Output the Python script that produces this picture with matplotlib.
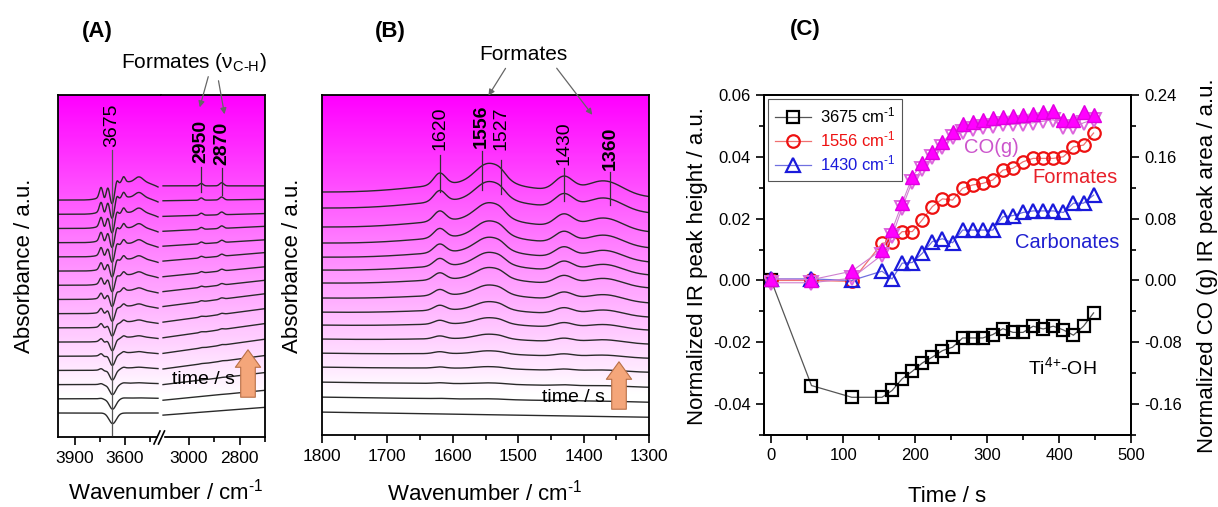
import numpy as np
import matplotlib
matplotlib.use("Agg")
import matplotlib.pyplot as plt
from matplotlib.colors import LinearSegmentedColormap
from matplotlib.lines import Line2D
from matplotlib.patches import Rectangle
from matplotlib.ticker import MultipleLocator, FixedLocator, FormatStrFormatter

plt.rcParams['font.family'] = ['Liberation Sans', 'DejaVu Sans']
plt.rcParams['mathtext.fontset'] = 'custom'
plt.rcParams['mathtext.rm'] = 'Liberation Sans'
plt.rcParams['mathtext.it'] = 'Liberation Sans:italic'
plt.rcParams['axes.unicode_minus'] = False

######################
# (C) kinetics of the IR bands, time in s
time_s = [0, 56, 112, 154, 168, 182, 196, 210, 224, 238, 252, 266, 280,
          294, 308, 322, 336, 350, 364, 378, 392, 406, 420, 434, 448]
oh_3675 = [0.0, -0.034, -0.0378, -0.0378, -0.0356, -0.0318, -0.0294, -0.0267,
           -0.0248, -0.0227, -0.0216, -0.0186, -0.0186, -0.0186, -0.0175,
           -0.0156, -0.0168, -0.0168, -0.0148, -0.0157, -0.0148, -0.016,
           -0.0177, -0.0148, -0.0105]
formate_1556 = [0.0, 0.0, -0.0003, 0.012, 0.0126, 0.0158, 0.0158, 0.0196,
                0.0239, 0.0264, 0.026, 0.0298, 0.0309, 0.0314, 0.0325, 0.0357,
                0.0363, 0.0384, 0.0395, 0.0395, 0.0395, 0.04, 0.0432, 0.0438,
                0.0477]
carbonate_1430 = [0.0005, 0.0005, 0.0, 0.003, 0.0005, 0.0056, 0.0058, 0.0088,
                  0.0126, 0.0135, 0.0122, 0.0163, 0.0163, 0.0163, 0.0163,
                  0.0206, 0.021, 0.022, 0.0225, 0.0225, 0.0225, 0.022, 0.025,
                  0.025, 0.0276]
# CO(g) peak areas (right axis)
co_area_a = [0.002, 0.001, 0.012, 0.040, 0.065, 0.100, 0.134, 0.152, 0.166,
             0.179, 0.192, 0.202, 0.205, 0.208, 0.210, 0.212, 0.213, 0.214,
             0.216, 0.218, 0.219, 0.208, 0.208, 0.218, 0.214]
co_area_b = [-0.003, -0.003, 0.003, 0.033, 0.057, 0.094, 0.128, 0.144, 0.160,
             0.173, 0.186, 0.192, 0.196, 0.198, 0.200, 0.202, 0.202, 0.203,
             0.204, 0.206, 0.208, 0.198, 0.198, 0.204, 0.208]

######################
# (A) OH + C-H region, bands of the last spectrum (centre, width, height)
a_oh_centre = [3742, 3700, 3648, 3606, 3640, 3480, 3515, 3675, 3722]
a_oh_width = [10, 9, 9, 9, 60, 110, 25, 10, 8]
a_oh_height = [0.65, 0.55, 0.55, 0.35, 0.8, 1.2, 0.4, -0.45, -0.3]
a_neg_band = (3672, 22, -0.75)          # consumed Ti4+-OH, present from the start
a_ch_centre = [2950, 2870]
a_ch_width = [7, 8]
a_ch_height = [0.17, 0.22]
a_scale = [0.0, 0.04, 0.08, 0.14, 0.2, 0.27, 0.34, 0.42, 0.5, 0.58, 0.66,
           0.74, 0.82, 0.88, 0.94, 1.0]
a_ch_level = [-0.15, -0.1, 0.0, 0.1, 0.2, 0.3, 0.4, 0.5, 0.55, 0.6, 0.7,
              0.75, 0.8, 0.85, 0.95, 1.0]
a_ch_rise = [0.55, 0.7, 0.85, 0.95, 1.0, 1.0, 0.95, 0.9, 0.8, 0.7, 0.6,
             0.45, 0.35, 0.2, 0.1, 0.0]

# (B) carbonate / formate region
b_centre = [1560, 1620, 1545, 1527, 1430, 1368]
b_width = [90, 9, 20, 8, 14, 28]
b_height = [0.8, 0.8, 1.35, 0.2, 1.0, 1.0]
b_scale = [0.0, 0.03, 0.06, 0.1, 0.16, 0.24, 0.32, 0.42, 0.5, 0.58, 0.65,
           0.72, 0.79, 0.86, 0.93, 1.0]
b_level = [0, 1.02, 2.04, 3.06, 4.01, 4.97, 5.92, 6.8, 7.76, 8.78, 9.66,
           10.54, 11.5, 12.59, 13.88, 14.97]
b_tilt = -0.35

inv_cm = r'cm$^{\text{-1}}$'


def band(wn, centre, width, height):
    return height * np.exp(-0.5 * ((wn - centre) / width) ** 2)


def fx(x):
    return x / 1218.0


def fy(y):
    return 1 - y / 507.0


def rect(x0, y0, x1, y1):
    return [fx(x0), fy(y1), fx(x1) - fx(x0), fy(y0) - fy(y1)]


fade = LinearSegmentedColormap.from_list(
    'fade', [(0, '#ff00ff'), (0.88, '#ffffff'), (1, '#ffffff')])


def paint_gradient(ax):
    g = np.linspace(0, 1, 300)[:, None]
    ax.imshow(g, cmap=fade, aspect='auto', extent=(0, 1, 0, 1),
              transform=ax.transAxes, zorder=0, interpolation='bilinear')


def style_spectrum_axis(ax):
    ax.set_yticks([])
    ax.tick_params(axis='x', which='major', direction='out', length=6,
                   width=1.2, labelsize=12.5, pad=4)
    ax.tick_params(axis='x', which='minor', direction='out', length=3.5,
                   width=1.2)
    for s in ax.spines.values():
        s.set_linewidth(1.3)


def peak_label(ax, x, text, bold, text_y, line_top, line_bot, bottom_px, h_px,
               line_col='#333333'):
    tr = ax.get_xaxis_transform()
    f = lambda y: (bottom_px - y) / h_px
    ax.text(x, f(text_y), text, rotation=90, ha='center', va='bottom',
            fontsize=14, fontweight='bold' if bold else 'normal',
            transform=tr, zorder=5)
    ax.plot([x, x], [f(line_top), f(line_bot)], color=line_col, lw=0.9,
            transform=tr, zorder=5)


fig = plt.figure(figsize=(12.18, 5.07), dpi=100)
spec_col = '#2a2a2a'

######################
# panel A, broken axis
axA1 = fig.add_axes(rect(58, 95, 161, 437))
axA2 = fig.add_axes(rect(161, 95, 265, 437))
wn_oh = np.linspace(4000, 3400, 601)
wn_ch = np.linspace(3100, 2700, 401)
for i in range(16):
    y = i + band(wn_oh, *a_neg_band)
    for c, w, h in zip(a_oh_centre, a_oh_width, a_oh_height):
        y = y + a_scale[i] * band(wn_oh, c, w, h)
    axA1.plot(wn_oh, y, color=spec_col, lw=1.0, zorder=2)
    y2 = i + a_ch_level[i] + a_ch_rise[i] * (3100 - wn_ch) / 400
    for c, w, h in zip(a_ch_centre, a_ch_width, a_ch_height):
        y2 = y2 + a_scale[i] * band(wn_ch, c, w, h)
    axA2.plot(wn_ch, y2, color=spec_col, lw=1.0, zorder=2)

for ax in (axA1, axA2):
    paint_gradient(ax)
    style_spectrum_axis(ax)
    ax.set_ylim(-1.69, 22.4)
axA1.set_xlim(4000, 3382)
axA2.set_xlim(3108, 2700)
axA1.xaxis.set_major_locator(FixedLocator([3900, 3600]))
axA1.xaxis.set_minor_locator(FixedLocator([3750, 3450]))
axA2.xaxis.set_major_locator(FixedLocator([3000, 2800]))
axA2.xaxis.set_minor_locator(FixedLocator([2900, 2700]))
axA1.spines['right'].set_visible(False)
axA2.spines['left'].set_visible(False)

peak_label(axA1, 3675, '3675', False, 147, 150, 435, 437, 342,
           line_col='#555555')
peak_label(axA2, 2950, '2950', True, 163, 167, 192, 437, 342)
peak_label(axA2, 2870, '2870', True, 165, 168, 195, 437, 342)

# axis break marks
fig.add_artist(Rectangle((fx(157.5), fy(439)), fx(5), fy(435) - fy(439),
                         transform=fig.transFigure, color='white', zorder=10))
for x0 in (154, 158.5):
    fig.add_artist(Line2D([fx(x0), fx(x0 + 6)], [fy(444), fy(431)],
                          transform=fig.transFigure, color='black', lw=1.2,
                          zorder=11))

######################
# panel B
axB = fig.add_axes(rect(322, 95, 649, 435))
wn_b = np.linspace(1800, 1300, 501)
for i in range(16):
    y = b_level[i] + b_tilt * (1800 - wn_b) / 500
    for c, w, h in zip(b_centre, b_width, b_height):
        y = y + b_scale[i] * band(wn_b, c, w, h)
    axB.plot(wn_b, y, color=spec_col, lw=1.0, zorder=2)
paint_gradient(axB)
style_spectrum_axis(axB)
axB.set_xlim(1800, 1300)
axB.set_ylim(-1.56, 21.6)
axB.xaxis.set_major_locator(MultipleLocator(100))
axB.xaxis.set_minor_locator(MultipleLocator(50))

peak_label(axB, 1620, '1620', False, 150, 155, 192, 435, 340)
peak_label(axB, 1556, '1556', True, 148, 151, 190, 435, 340)
peak_label(axB, 1527, '1527', False, 150, 160, 194, 435, 340)
peak_label(axB, 1430, '1430', False, 165, 168, 201, 435, 340)
peak_label(axB, 1360, '1360', True, 170, 172, 205, 435, 340)

######################
# panel C
axC = fig.add_axes(rect(764, 95, 1131, 435))
axR = axC.twinx()

axC.plot(time_s, oh_3675, marker='s', ms=8, mfc='none', mec='black', mew=1.6,
         color='#555555', lw=0.9, label='3675 ' + inv_cm, zorder=3)
axC.plot(time_s, formate_1556, marker='o', ms=9, mfc='none', mec='#ee1111',
         mew=1.6, color='#f07070', lw=0.9, label='1556 ' + inv_cm, zorder=3)
axC.plot(time_s, carbonate_1430, marker='^', ms=10, mfc='none', mec='#1a1adb',
         mew=1.6, color='#7070e0', lw=0.9, label='1430 ' + inv_cm, zorder=3)
axR.plot(time_s, co_area_b, marker='v', ms=10, mfc='none', mec='#dd66dd',
         mew=1.4, color='#d080d0', lw=0.8, zorder=3)
axR.plot(time_s, co_area_a, marker='^', ms=10, mfc='#ff00ff', mec='#e000e0',
         mew=1.0, color='#d080d0', lw=0.8, zorder=4)

axC.set_xlim(-10, 500)
axC.set_ylim(-0.05, 0.06)
axR.set_ylim(-0.2, 0.24)
axC.xaxis.set_major_locator(MultipleLocator(100))
axC.xaxis.set_minor_locator(MultipleLocator(50))
axC.yaxis.set_major_locator(MultipleLocator(0.02))
axC.yaxis.set_minor_locator(MultipleLocator(0.01))
axC.yaxis.set_major_formatter(FormatStrFormatter('%.2f'))
axR.yaxis.set_major_locator(FixedLocator([-0.16, -0.08, 0.0, 0.08, 0.16, 0.24]))
axR.yaxis.set_minor_locator(MultipleLocator(0.04))
axR.yaxis.set_major_formatter(FormatStrFormatter('%.2f'))
for ax in (axC, axR):
    ax.tick_params(which='major', direction='out', length=6, width=1.2,
                   labelsize=12)
    ax.tick_params(which='minor', direction='out', length=3.5, width=1.2)
    for s in ax.spines.values():
        s.set_linewidth(1.3)

leg = axC.legend(loc='upper left', fontsize=12, frameon=True, fancybox=False,
                 edgecolor='#555555', framealpha=1, borderaxespad=0.25,
                 handlelength=2.2, labelspacing=0.25, borderpad=0.4,
                 handletextpad=0.5)
leg.get_frame().set_linewidth(0.8)
for t, c in zip(leg.get_texts(), ['black', '#ee1111', '#1a1adb']):
    t.set_color(c)
leg.set_zorder(10)

axC.text(306, 0.0431, 'CO(g)', color='#cc55cc', fontsize=14.5,
         ha='center', va='center', zorder=6)
axC.text(422, 0.0334, 'Formates', color='#e8202a', fontsize=14.5,
         ha='center', va='center', zorder=6)
axC.text(411, 0.0124, 'Carbonates', color='#2020d0', fontsize=14.5,
         ha='center', va='center', zorder=6)
axC.text(404, -0.0282, r'Ti$^{\text{4+}}$-OH', color='black', fontsize=14,
         ha='center', va='center', zorder=6)

######################
# titles, axis labels and pointers
fig.text(fx(97), fy(32), '(A)', fontsize=16, fontweight='bold',
         ha='center', va='center')
fig.text(fx(390), fy(32), '(B)', fontsize=16, fontweight='bold',
         ha='center', va='center')
fig.text(fx(805), fy(30), '(C)', fontsize=16, fontweight='bold',
         ha='center', va='center')

fig.text(fx(194), fy(62), r'Formates (ν$_{\text{C-H}}$)', fontsize=15,
         ha='center', va='center')
fig.text(fx(523), fy(54), 'Formates', fontsize=15, ha='center', va='center')

pointer = dict(arrowstyle='-|>', color='#666666', lw=0.9, mutation_scale=9)
for (x0, y0), (x1, y1) in [((209, 74), (199, 110)), ((218, 78), (225, 117)),
                           ((507, 66), (487, 98)), ((555, 66), (594, 117))]:
    axC.annotate('', xy=(fx(x1), fy(y1)), xytext=(fx(x0), fy(y0)),
                 xycoords='figure fraction', textcoords='figure fraction',
                 arrowprops=pointer, annotation_clip=False)

fig.text(fx(203), fy(380), 'time / s', fontsize=14, ha='center', va='center',
         zorder=6)
fig.text(fx(573), fy(398), 'time / s', fontsize=14, ha='center', va='center',
         zorder=6)
fat = dict(arrowstyle='simple,head_width=1.3,head_length=0.9,tail_width=0.75',
           fc='#f4a67a', ec='#b87048', lw=0.8, mutation_scale=14)
for x, y0, y1 in [(248, 400, 347), (619, 412, 359)]:
    axC.annotate('', xy=(fx(x), fy(y1)), xytext=(fx(x), fy(y0)),
                 xycoords='figure fraction', textcoords='figure fraction',
                 arrowprops=fat, annotation_clip=False)

fig.text(fx(25), fy(266), 'Absorbance / a.u.', fontsize=16, rotation=90,
         ha='center', va='center')
fig.text(fx(292), fy(266), 'Absorbance / a.u.', fontsize=16, rotation=90,
         ha='center', va='center')
fig.text(fx(166), fy(492), 'Wavenumber / ' + inv_cm, fontsize=16,
         ha='center', va='center')
fig.text(fx(485), fy(493), 'Wavenumber / ' + inv_cm, fontsize=16,
         ha='center', va='center')
fig.text(fx(947), fy(497), 'Time / s', fontsize=16, ha='center', va='center')
fig.text(fx(697), fy(266), 'Normalized IR peak height / a.u.', fontsize=16,
         rotation=90, ha='center', va='center')
fig.text(fx(1208), fy(266), 'Normalized CO (g) IR peak area / a.u.',
         fontsize=16, rotation=90, ha='center', va='center')

fig.savefig('out.png', dpi=100)
